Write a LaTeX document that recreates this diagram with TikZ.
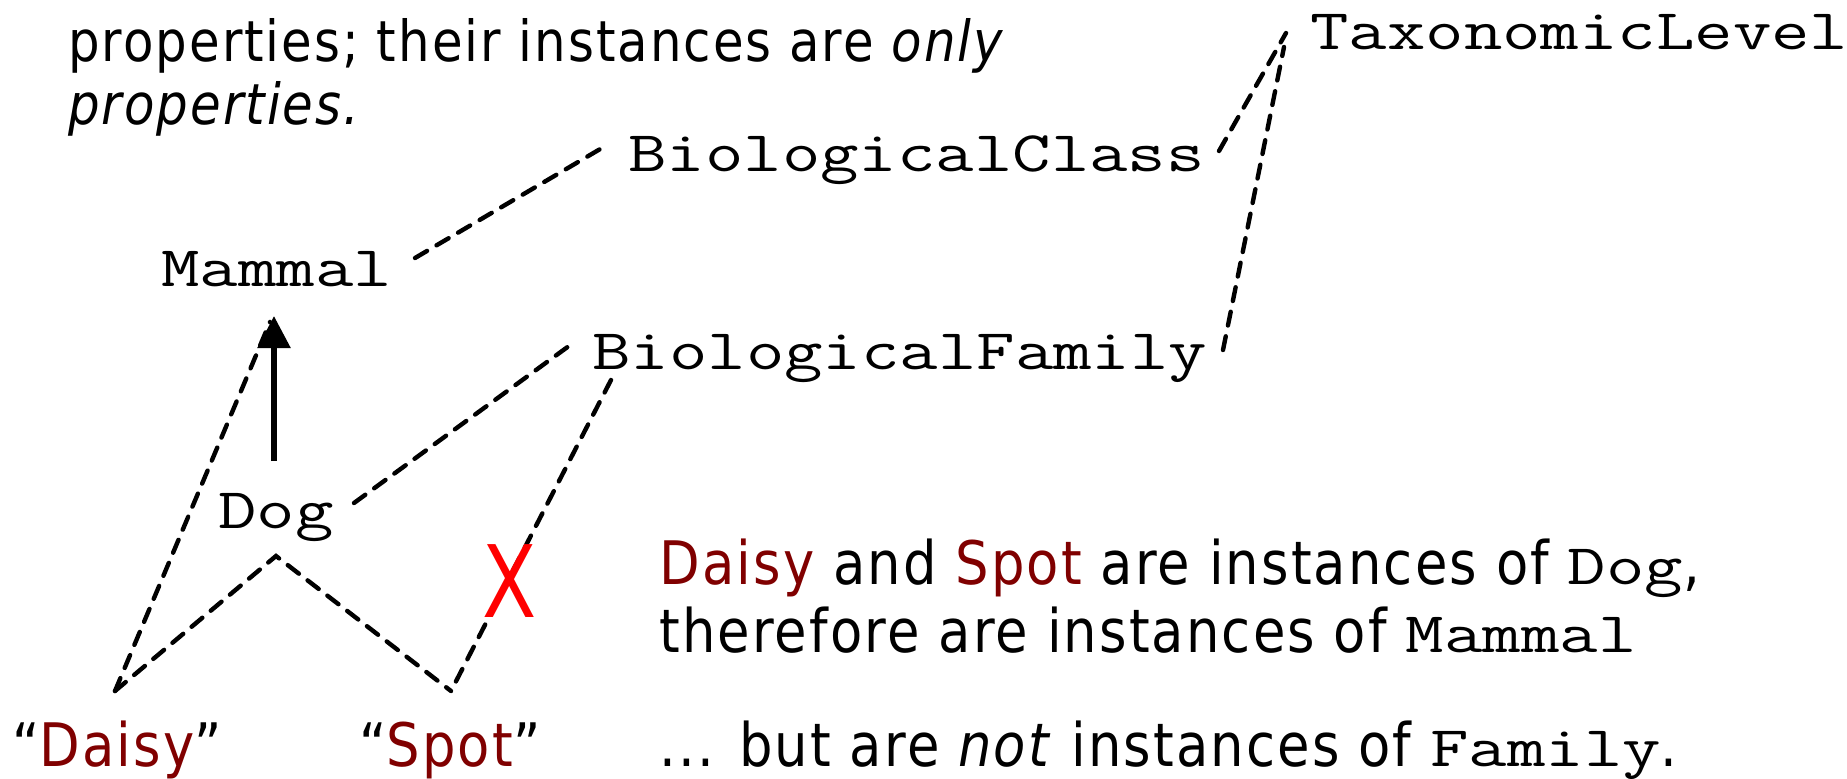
\documentclass[tikz,border=0pt]{standalone}
\usepackage{fontspec}
\setmainfont{DejaVu Sans}[FakeStretch=0.88, LetterSpace=3.5]
\setmonofont{Latin Modern Mono}[FakeStretch=1.3]
\usetikzlibrary{arrows.meta}
\definecolor{petred}{RGB}{128,0,0}
\newcommand\cd[1]{{\ttfamily\fontsize{28.7}{32}\selectfont #1}}
\tikzset{
  txt/.style={font=\fontsize{30}{33}\selectfont, inner sep=0pt, anchor=base west},
  headtxt/.style={txt, font=\fontsize{28.3}{31}\selectfont},
  code/.style={font=\ttfamily\fontsize{28.7}{32}\selectfont, inner sep=0pt, anchor=base west},
  inst/.style={draw, line width=2.2pt, line cap=round, dash pattern=on 7pt off 5.5pt},
  isa/.style={draw, line width=2.8pt, -{Triangle[width=16pt,length=16pt]}},
}
\begin{document}
\begin{tikzpicture}[x=0.5pt, y=-0.5pt]
\useasboundingbox (0,0) rectangle (1847,778);

% heading fragment
\node[headtxt] (head1) at (68,61) {properties; their instances are \textit{only}};
\node[headtxt] (head2) at (68,124) {\textit{properties.}};

% classes
\node[code] (tax) at (1310,49) {TaxonomicLevel};
\node[code] (cls) at (628,171) {BiologicalClass};
\node[code] (mam) at (161,286) {Mammal};
\node[code] (fam) at (592,369) {BiologicalFamily};
\node[code] (dog) at (218,528) {Dog};

% individuals
\node[txt] (daisy) at (12,766) {“\textcolor{petred}{Daisy}”};
\node[txt] (spot) at (359,766) {“\textcolor{petred}{Spot}”};

% connector end points
\coordinate (mamR) at (415,258);
\coordinate (mamB) at (270,322);
\coordinate (clsL) at (607,145);
\coordinate (clsR) at (1219,151);
\coordinate (taxA) at (1286,33);
\coordinate (taxB) at (1284,47);
\coordinate (famL) at (573,343);
\coordinate (famB) at (611,380);
\coordinate (famR) at (1223,350);
\coordinate (dogR) at (354,503);
\coordinate (dogB) at (276,556);
\coordinate (dogT) at (274,461);
\coordinate (mamT) at (274,316);
\coordinate (daisyT) at (115,691);
\coordinate (spotT) at (451,691);

% instance-of links
\draw[inst] (mamR) -- (clsL);
\draw[inst] (clsR) -- (taxA);
\draw[inst] (famR) -- (taxB);
\draw[inst] (dogR) -- (famL);
\draw[inst] (famB) -- (spotT);
\draw[inst] (daisyT) -- (dogB) -- (spotT);
\draw[inst] (daisyT) -- (mamB);

% subclass link
\draw[isa] (dogT) -- (mamT);

% rejected link
\node[font=\fontsize{50}{52}\selectfont, text=red, inner sep=0pt] (cross) at (510,581) {\scalebox{0.9}[1]{X}};

% explanation
\node[txt] (ex1) at (659,584) {\textcolor{petred}{Daisy} and \textcolor{petred}{Spot} are instances of \cd{Dog},};
\node[txt] (ex2) at (659,652) {therefore are instances of \cd{Mammal}};
\node[txt] (ex3) at (659,766) {... but are \textit{not} instances of \cd{Family}.};
\end{tikzpicture}
\end{document}
